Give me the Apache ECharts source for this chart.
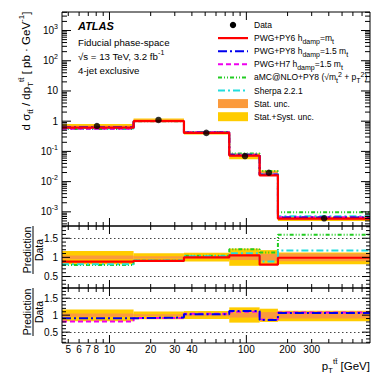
<!DOCTYPE html>
<html>
<head>
<meta charset="utf-8">
<title>ttbar pT, 4-jet exclusive</title>
<script src="https://cdn.jsdelivr.net/npm/echarts@6.0.0/dist/echarts.min.js"></script>
<style>
  html, body { margin: 0; padding: 0; background: #fff; }
  #chart { width: 390px; height: 379px; }
</style>
</head>
<body>
<div id="chart"></div>
<script>
// pT(tt) bin edges [GeV]; first bin starts at 0, drawn from the left end of the log axis
const binEdges = [4.5, 15, 35, 75, 125, 170, 800];

// data points
const dataX = [8.1, 22.8, 51, 97.7, 146, 370];
const dataY = [0.69, 1.10, 0.41, 0.070, 0.0197, 0.00061];

// uncertainty bands around the data [pb/GeV]
const statLo = [0.655, 1.07, 0.398, 0.065, 0.0178, 0.00055];
const statHi = [0.725, 1.13, 0.422, 0.075, 0.0216, 0.00067];
const systLo = [0.565, 0.97, 0.365, 0.055, 0.0158, 0.00050];
const systHi = [0.81, 1.22, 0.46, 0.086, 0.0235, 0.00069];

// predictions [pb/GeV]
const pwgPy6 = [0.61, 1.00, 0.41, 0.073, 0.0160, 0.00060];
const pwgPy8 = [0.63, 1.02, 0.42, 0.078, 0.0169, 0.00065];
const pwgH7 = [0.56, 1.01, 0.43, 0.077, 0.0171, 0.00066];
const amcPy8 = [0.55, 1.00, 0.43, 0.085, 0.0223, 0.00097];
const sherpa = [0.57, 1.01, 0.42, 0.078, 0.0175, 0.00072];

// prediction / data
const ratioStatLo = [0.95, 0.97, 0.97, 0.93, 0.91, 0.90];
const ratioStatHi = [1.05, 1.03, 1.03, 1.07, 1.09, 1.10];
const ratioSystLo = [0.82, 0.88, 0.89, 0.78, 0.80, 0.82];
const ratioSystHi = [1.17, 1.11, 1.12, 1.23, 1.19, 1.13];
const pwgPy6Ratio = [0.89, 0.91, 1.00, 1.05, 0.81, 0.99];
const amcPy8Ratio = [0.80, 0.91, 1.04, 1.21, 1.13, 1.59];
const sherpaRatio = [0.82, 0.92, 1.03, 1.11, 0.89, 1.18];
const pwgPy8Ratio = [0.91, 0.93, 1.03, 1.12, 0.86, 1.06];
const pwgH7Ratio = [0.81, 0.92, 1.04, 1.10, 0.87, 1.08];

// ticks and tick labels
const xMajorTicks = [10, 100];
const xMinorTicks = [5, 6, 7, 8, 9, 20, 30, 40, 50, 60, 70, 80, 90, 200, 300, 400, 500, 600, 700];
const xTickLabels = [5, 6, 7, 8, 10, 20, 30, 40, 100, 200, 300];
const mainYMajor = [0.001, 0.01, 0.1, 1, 10, 100, 1000];
const ratioYMajor = [0.5, 1, 1.5];
const ratioYMinor = [0.2, 0.3, 0.4, 0.6, 0.7, 0.8, 0.9, 1.1, 1.2, 1.3, 1.4, 1.6, 1.7, 1.8];

const MAIN_Y = [3.4e-4, 4100];
const R1_Y = [0.2, 1.82];
const R2_Y = [0.18, 1.8];

const mainYMinor = [];
for (let e = -4; e <= 3; e++) {
  for (let m = 2; m <= 9; m++) mainYMinor.push(m * Math.pow(10, e));
}

const FONT = 'Liberation Sans, Arial, Helvetica, sans-serif';
const RED = '#ff0000', BLUE = '#0000ee', MAGENTA = '#ee00ee', GREEN = '#22cc22', CYAN = '#22dddd';
const ORANGE = '#fb9a3c', YELLOW = '#ffcc00';
const DASH_PY8 = [9, 3, 2, 3], DASH_H7 = [5, 3], DASH_AMC = [4, 2, 1, 2, 1, 2], DASH_SHERPA = [7, 3, 2, 3];

const chart = echarts.init(document.getElementById('chart'), null, { renderer: 'svg' });

function steps(vals) {
  return binEdges.map((e, i) => [e, vals[Math.min(i, vals.length - 1)]]);
}

function band(lo, hi, color, gi) {
  return {
    type: 'custom', xAxisIndex: gi, yAxisIndex: gi, silent: true,
    data: lo.map((l, i) => [binEdges[i], binEdges[i + 1], l, hi[i]]),
    encode: { x: [0, 1], y: [2, 3] },
    renderItem: function (params, api) {
      const a = api.coord([api.value(0), api.value(3)]);
      const b = api.coord([api.value(1), api.value(2)]);
      return { type: 'rect', shape: { x: a[0], y: a[1], width: b[0] - a[0], height: b[1] - a[1] }, style: { fill: color } };
    }
  };
}

function histo(vals, color, width, type, gi, extra) {
  return Object.assign({
    type: 'line', xAxisIndex: gi, yAxisIndex: gi, step: 'end', silent: true,
    data: steps(vals), symbol: 'none',
    lineStyle: { color: color, width: width, type: type }
  }, extra || {});
}

const guideLines = {
  silent: true, symbol: ['none', 'none'], label: { show: false },
  lineStyle: { type: [1.5, 2.5], color: '#444', width: 1 },
  data: [{ yAxis: 0.5 }, { yAxis: 1.5 }]
};

// frame, ticks on all four sides and the hand-placed tick labels
function frame(gi, yRange, yMajor, yMinor, len, xLabels, yLabels) {
  const inY = v => v >= yRange[0] - 1e-9 && v <= yRange[1] + 1e-9;
  return {
    type: 'custom', xAxisIndex: gi, yAxisIndex: gi, clip: false, silent: true, z: 20,
    data: [[10, 1]],
    renderItem: function (params, api) {
      const cs = params.coordSys;
      const l = cs.x, r = cs.x + cs.width, t = cs.y, b = cs.y + cs.height;
      const kids = [{ type: 'rect', shape: { x: l, y: t, width: cs.width, height: cs.height }, style: { fill: 'none', stroke: '#000', lineWidth: 1 } }];
      const seg = (x1, y1, x2, y2) => kids.push({ type: 'line', shape: { x1: x1, y1: y1, x2: x2, y2: y2 }, style: { stroke: '#000', lineWidth: 1 } });
      const xOf = v => api.coord([v, 1])[0];
      const yOf = v => api.coord([10, v])[1];
      xMajorTicks.forEach(v => { const x = xOf(v); seg(x, b, x, b - len[0]); seg(x, t, x, t + len[0]); });
      xMinorTicks.forEach(v => { const x = xOf(v); seg(x, b, x, b - len[1]); seg(x, t, x, t + len[1]); });
      yMajor.filter(inY).forEach(v => { const y = yOf(v); seg(l, y, l + len[2], y); seg(r, y, r - len[2], y); });
      yMinor.filter(inY).forEach(v => { const y = yOf(v); seg(l, y, l + len[3], y); seg(r, y, r - len[3], y); });
      if (xLabels) {
        xTickLabels.forEach(v => kids.push({
          type: 'text', x: xOf(v), y: b + 6,
          style: { text: String(v), fontSize: 10, fontFamily: FONT, fill: '#000', align: 'center', verticalAlign: 'middle' }
        }));
      }
      if (yLabels) {
        yMajor.forEach(v => kids.push({
          type: 'text', x: l - 4, y: yOf(v),
          style: { text: String(v), fontSize: 10, fontFamily: FONT, fill: '#000', align: 'right', verticalAlign: 'middle' }
        }));
      }
      return { type: 'group', children: kids };
    }
  };
}

const richSS = {
  sub: { fontSize: 7, lineHeight: 7, verticalAlign: 'bottom', fontFamily: FONT },
  sup: { fontSize: 7, lineHeight: 7, verticalAlign: 'top', fontFamily: FONT }
};

function txt(x, y, text, size, extra) {
  return {
    type: 'text', x: x, y: y, silent: true,
    style: Object.assign({ text: text, fontSize: size, fontFamily: FONT, fill: '#000', verticalAlign: 'middle', lineHeight: size + 5, rich: richSS }, extra || {})
  };
}

const legendRows = [
  { label: 'Data', kind: 'dot' },
  { label: 'PWG+PY6 h{sub|damp}=m{sub|t}', kind: 'line', color: RED, dash: null, width: 2.2 },
  { label: 'PWG+PY8 h{sub|damp}=1.5 m{sub|t}', kind: 'line', color: BLUE, dash: DASH_PY8, width: 2 },
  { label: 'PWG+H7 h{sub|damp}=1.5 m{sub|t}', kind: 'line', color: MAGENTA, dash: DASH_H7, width: 2 },
  { label: 'aMC@NLO+PY8 (√m{sub|t}{sup|2} + p{sub|T}{sup|2})', kind: 'line', color: GREEN, dash: DASH_AMC, width: 2 },
  { label: 'Sherpa 2.2.1', kind: 'line', color: CYAN, dash: DASH_SHERPA, width: 2 },
  { label: 'Stat. unc.', kind: 'box', color: ORANGE },
  { label: 'Stat.+Syst. unc.', kind: 'box', color: YELLOW }
];

const legendEls = [];
legendRows.forEach((row, i) => {
  const y = 25 + 13.1 * i;
  if (row.kind === 'dot') {
    legendEls.push({ type: 'circle', shape: { cx: 233, cy: y, r: 3.2 }, style: { fill: '#000' } });
  } else if (row.kind === 'line') {
    legendEls.push({ type: 'line', shape: { x1: 218, y1: y, x2: 248, y2: y }, style: { stroke: row.color, lineWidth: row.width, lineDash: row.dash } });
  } else {
    legendEls.push({ type: 'rect', shape: { x: 218, y: y - 4.5, width: 30, height: 9 }, style: { fill: row.color } });
  }
  legendEls.push(txt(254, y, row.label, 8.5));
});

function ratioTitle(cy) {
  return {
    type: 'group', x: 33, y: cy, rotation: Math.PI / 2, silent: true,
    children: [
      { type: 'text', x: 0, y: -6, style: { text: 'Prediction', fontSize: 10.5, fontFamily: FONT, fill: '#000', align: 'center', verticalAlign: 'middle' } },
      { type: 'line', shape: { x1: -24, y1: 0, x2: 24, y2: 0 }, style: { stroke: '#000', lineWidth: 1 } },
      { type: 'text', x: 0, y: 6, style: { text: 'Data', fontSize: 10.5, fontFamily: FONT, fill: '#000', align: 'center', verticalAlign: 'middle' } }
    ]
  };
}

const graphicEls = [
  txt(78, 26, 'ATLAS', 11, { fontWeight: 'bold', fontStyle: 'italic' }),
  txt(78, 42, 'Fiducial phase-space', 9.7),
  txt(78, 56, '√s = 13 TeV, 3.2 fb{sup|-1}', 9.7),
  txt(78, 70, '4-jet exclusive', 9.7),
  Object.assign(txt(26, 71, 'd σ{sub|tt̄} / dp{sub|T}{sup|tt̄} [ pb · GeV{sup|-1}]', 11.5, { align: 'center', rich: {
    sub: { fontSize: 8, lineHeight: 8, verticalAlign: 'bottom', fontFamily: FONT },
    sup: { fontSize: 8, lineHeight: 8, verticalAlign: 'top', fontFamily: FONT } } }), { rotation: Math.PI / 2 }),
  ratioTitle(250),
  ratioTitle(312),
  txt(370, 366, 'p{sub|T}{sup|tt̄} [GeV]', 11.5, { align: 'right', rich: {
    sub: { fontSize: 8, lineHeight: 8, verticalAlign: 'bottom', fontFamily: FONT },
    sup: { fontSize: 8, lineHeight: 8, verticalAlign: 'top', fontFamily: FONT } } })
].concat(legendEls);

const option = {
  animation: false,
  grid: [
    { left: 62, top: 12, width: 308, height: 214, outerBoundsMode: 'none' },
    { left: 62, top: 226, width: 308, height: 62, outerBoundsMode: 'none' },
    { left: 62, top: 288, width: 308, height: 55, outerBoundsMode: 'none' }
  ],
  xAxis: [0, 1, 2].map(gi => ({
    type: 'log', gridIndex: gi, min: binEdges[0], max: binEdges[binEdges.length - 1],
    axisLine: { show: false }, axisTick: { show: false }, axisLabel: { show: false }, splitLine: { show: false }
  })),
  yAxis: [
    {
      type: 'log', gridIndex: 0, min: MAIN_Y[0], max: MAIN_Y[1],
      axisLine: { show: false }, axisTick: { show: false }, splitLine: { show: false },
      axisLabel: {
        showMinLabel: false, showMaxLabel: false, margin: 4, color: '#000',
        fontFamily: FONT, fontSize: 10, lineHeight: 15,
        formatter: function (v) {
          const e = Math.round(Math.log10(v));
          if (e === 0) return '1';
          if (e === 1) return '10';
          return '10{sup|' + e + '}';
        },
        rich: { sup: { fontSize: 7, lineHeight: 7, verticalAlign: 'top', fontFamily: FONT, color: '#000' } }
      }
    },
    { type: 'value', gridIndex: 1, min: R1_Y[0], max: R1_Y[1], axisLine: { show: false }, axisTick: { show: false }, axisLabel: { show: false }, splitLine: { show: false } },
    { type: 'value', gridIndex: 2, min: R2_Y[0], max: R2_Y[1], axisLine: { show: false }, axisTick: { show: false }, axisLabel: { show: false }, splitLine: { show: false } }
  ],
  graphic: { elements: graphicEls },
  series: [
    // main panel
    band(systLo, systHi, YELLOW, 0),
    band(statLo, statHi, ORANGE, 0),
    histo(amcPy8, GREEN, 2, DASH_AMC, 0),
    histo(sherpa, CYAN, 2, DASH_SHERPA, 0),
    histo(pwgH7, MAGENTA, 2, DASH_H7, 0),
    histo(pwgPy8, BLUE, 2, DASH_PY8, 0),
    histo(pwgPy6, RED, 2.2, 'solid', 0),
    {
      type: 'scatter', xAxisIndex: 0, yAxisIndex: 0, silent: true, z: 5,
      data: dataX.map((x, i) => [x, dataY[i]]),
      symbol: 'circle', symbolSize: 6.5, itemStyle: { color: '#000' }
    },
    // ratio: PY6, aMC@NLO, Sherpa
    band(ratioSystLo, ratioSystHi, YELLOW, 1),
    band(ratioStatLo, ratioStatHi, ORANGE, 1),
    histo(amcPy8Ratio, GREEN, 2, DASH_AMC, 1),
    histo(sherpaRatio, CYAN, 2, DASH_SHERPA, 1),
    histo(pwgPy6Ratio, RED, 2.2, 'solid', 1, { markLine: guideLines }),
    // ratio: PY8, H7
    band(ratioSystLo, ratioSystHi, YELLOW, 2),
    band(ratioStatLo, ratioStatHi, ORANGE, 2),
    histo(pwgH7Ratio, MAGENTA, 2, DASH_H7, 2),
    histo(pwgPy8Ratio, BLUE, 2, DASH_PY8, 2, { markLine: guideLines }),
    // frames and ticks
    frame(0, MAIN_Y, mainYMajor, mainYMinor, [8, 4, 9, 5], false, false),
    frame(1, R1_Y, ratioYMajor, ratioYMinor, [8, 4, 8, 4], false, true),
    frame(2, R2_Y, ratioYMajor, ratioYMinor, [8, 4, 8, 4], true, true)
  ]
};

chart.setOption(option);
window.addEventListener('resize', () => chart.resize());
</script>
</body>
</html>
